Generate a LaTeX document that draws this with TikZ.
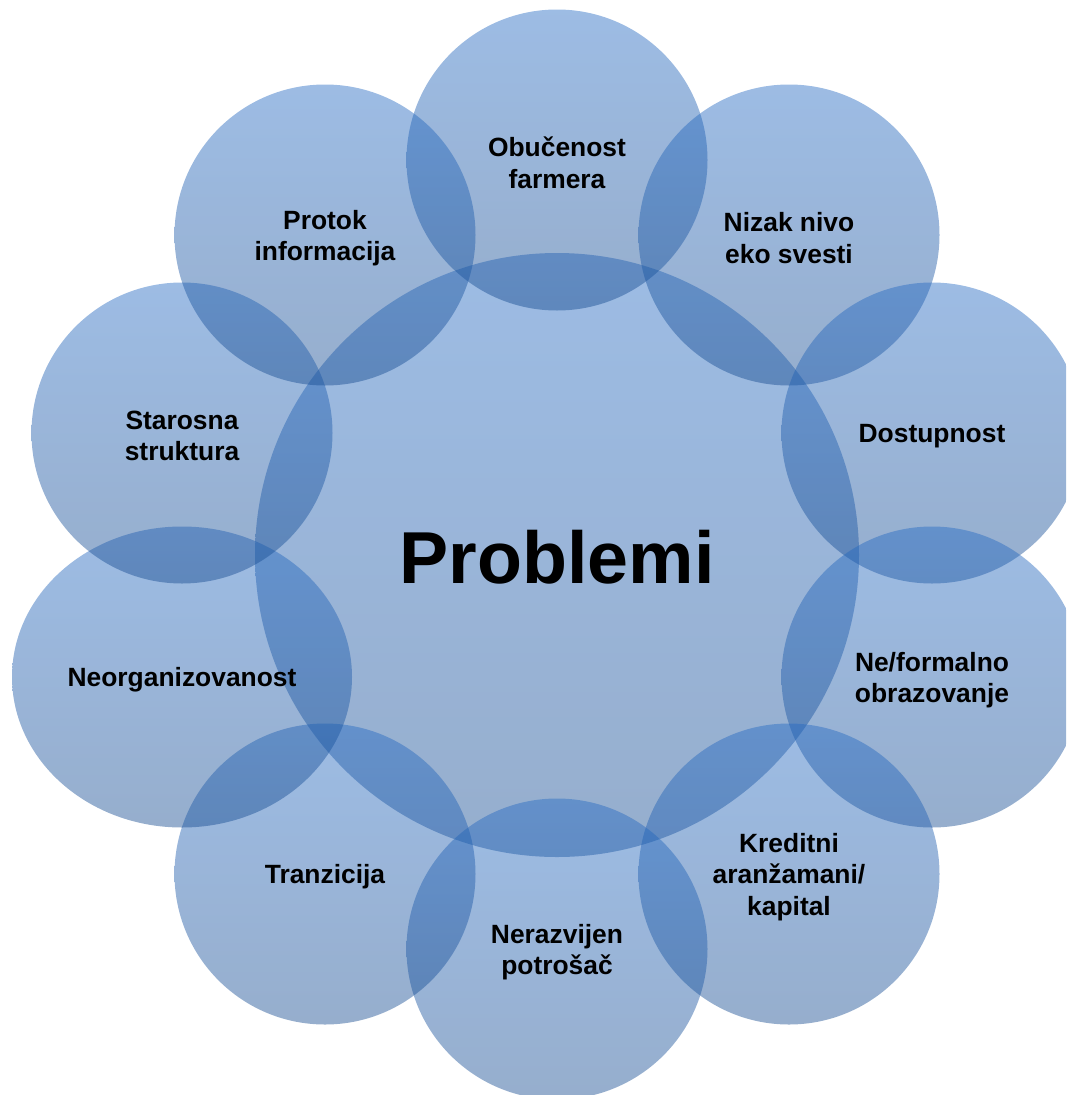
\documentclass[tikz,border=0pt]{standalone}
\usepackage{fontspec}
\setmainfont{Liberation Sans}
\usetikzlibrary{shapes.geometric}
\definecolor{ctop}{RGB}{37,106,195}
\definecolor{cbot}{RGB}{22,75,144}
\begin{document}
\begin{tikzpicture}[x=1pt,y=-1pt,
  bubble/.style={circle,inner sep=0pt,draw=none,top color=ctop,bottom color=cbot,fill opacity=0.45},
  small/.style={bubble,minimum size=301pt},
  lab/.style={font=\fontsize{26.4}{31.5}\selectfont\bfseries,align=center,text=black,yshift=-3pt}]
\useasboundingbox (0,0) rectangle (1066,1095);
\clip (0,0) rectangle (1066,1095);
\node[bubble,minimum size=604pt] (c0) at (557,555) {};
\node[small] (c1) at (557,160) {};
\node[small] (c2) at (789,235) {};
\node[small] (c3) at (932,433) {};
\node[small] (c4) at (932,677) {};
\node[small] (c5) at (789,874) {};
\node[small] (c6) at (557,949) {};
\node[small] (c7) at (325,874) {};
\node[bubble,ellipse,minimum width=340pt,minimum height=301pt] (c8) at (182,677) {};
\node[small] (c9) at (182,433) {};
\node[small] (c10) at (325,235) {};
\node[font=\fontsize{73.6}{80}\selectfont\bfseries,yshift=-2pt] (t0) at (c0.center) {Problemi};
\node[lab] (t1) at (c1.center) {Obučenost\\farmera};
\node[lab] (t2) at (c2.center) {Nizak nivo\\eko svesti};
\node[lab] (t3) at (c3.center) {Dostupnost};
\node[lab] (t4) at (c4.center) {Ne/formalno\\obrazovanje};
\node[lab] (t5) at (c5.center) {Kreditni\\aranžamani/\\kapital};
\node[lab] (t6) at (c6.center) {Nerazvijen\\potrošač};
\node[lab] (t7) at (c7.center) {Tranzicija};
\node[lab] (t8) at (c8.center) {Neorganizovanost};
\node[lab] (t9) at (c9.center) {Starosna\\struktura};
\node[lab] (t10) at (c10.center) {Protok\\informacija};
\end{tikzpicture}
\end{document}
